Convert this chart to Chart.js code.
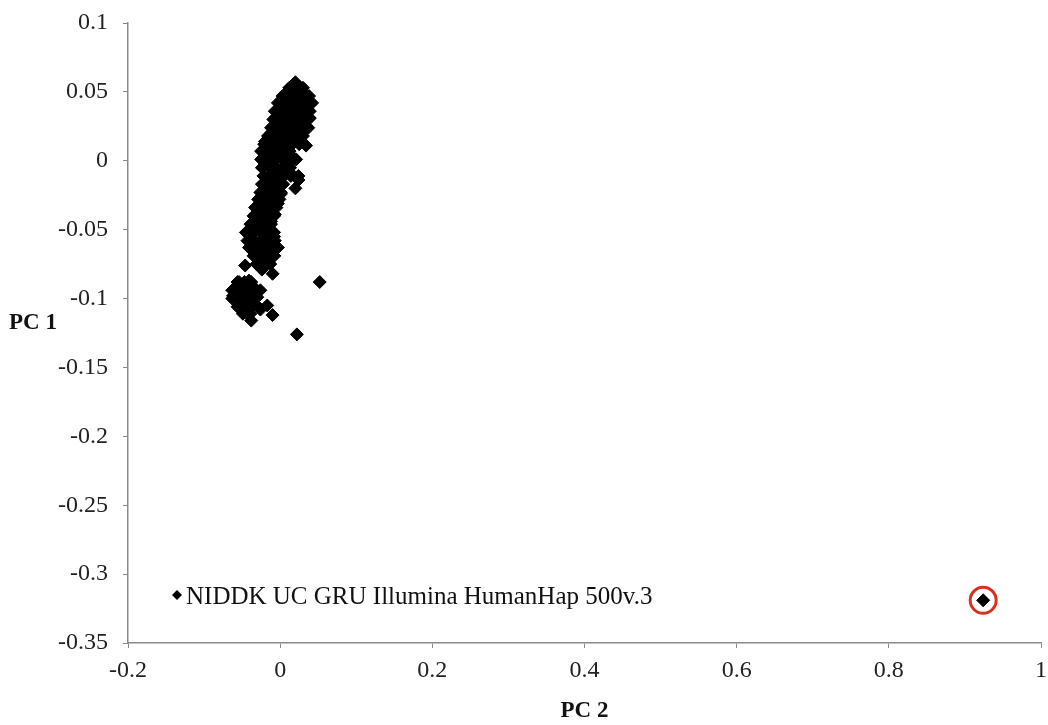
<!DOCTYPE html>
<html>
<head>
<meta charset="utf-8">
<script src="https://cdn.jsdelivr.net/npm/chart.js@4"></script>
<style>
  html, body { margin: 0; padding: 0; background: #fff; }
  #wrap { width: 1048px; height: 725px; }
</style>
</head>
<body>
<div id="wrap"><canvas id="pcaChart" width="1048" height="725"></canvas></div>
<script>
// PC 2 (x) / PC 1 (y) values
const pc2 = [
  0.020, 0.025, 0.013, 0.030, 0.008, 0.020, 0.033, 0.003, 0.016, 0.025,
  0.035, -0.001, 0.010, 0.022, 0.031, 0.039, -0.005, 0.007, 0.017, 0.028,
  0.037, -0.008, 0.003, 0.013, 0.024, -0.012, -0.001, 0.009, 0.020, 0.034,
  -0.020, -0.009, 0.003, 0.012, -0.022, -0.013, -0.003, 0.008, 0.018, -0.020,
  -0.008, 0.003, 0.014, 0.024, 0.020, -0.014, -0.003, -0.020, -0.007, 0.001,
  -0.024, -0.013, -0.003, -0.028, -0.017, -0.007, -0.033, -0.022, -0.037, -0.012,
  -0.043, -0.030, -0.018, -0.008, -0.038, -0.025, -0.013, -0.003, -0.033, -0.020,
  -0.008, -0.028, -0.016, -0.046, -0.010, -0.024, -0.054, -0.041, -0.059, -0.047,
  -0.034, -0.056, -0.043, -0.030, -0.051, -0.038, -0.026, -0.043, -0.038, -0.017,
  -0.010, -0.062, 0.022, 0.052, 0.924,
  // dense part of the cluster
  0.012, 0.021, 0.030,
  0.003, 0.012, 0.021, 0.030, 0.038,
  -0.003, 0.007, 0.016, 0.025, 0.034, 0.042,
  -0.007, 0.003, 0.012, 0.021, 0.030, 0.039,
  -0.009, 0.000, 0.009, 0.018, 0.028, 0.037,
  -0.012, -0.003, 0.007, 0.016, 0.025, 0.034,
  -0.016, -0.007, 0.003, 0.012, 0.021, 0.030,
  -0.021, -0.012, -0.003, 0.007, 0.016, 0.025,
  -0.025, -0.016, -0.007, 0.003, 0.012,
  -0.025, -0.016, -0.007, 0.003, 0.012, 0.021,
  -0.024, -0.014, -0.005, 0.004, 0.013,
  -0.022, -0.013, -0.004, 0.005, 0.014, 0.024,
  -0.024, -0.014, -0.005, 0.004,
  -0.026, -0.017, -0.008, 0.001,
  -0.029, -0.020, -0.010, -0.001,
  -0.033, -0.024, -0.014, -0.005,
  -0.035, -0.026, -0.017, -0.008,
  -0.039, -0.030, -0.021, -0.012,
  -0.045, -0.035, -0.026, -0.017, -0.008,
  -0.043, -0.034, -0.025, -0.016, -0.007,
  -0.041, -0.031, -0.022, -0.013, -0.004,
  -0.035, -0.026, -0.017, -0.008,
  -0.031, -0.022, -0.013,
  -0.056, -0.047, -0.038,
  -0.063, -0.054, -0.045, -0.035, -0.026,
  -0.063, -0.054, -0.045, -0.035,
  -0.056, -0.047, -0.038, -0.029,
  -0.049, -0.039
];
const pc1 = [
  0.057, 0.054, 0.053, 0.050, 0.049, 0.047, 0.044, 0.044, 0.042, 0.040,
  0.039, 0.038, 0.036, 0.035, 0.033, 0.031, 0.032, 0.030, 0.028, 0.026,
  0.024, 0.025, 0.023, 0.022, 0.020, 0.020, 0.017, 0.016, 0.014, 0.011,
  0.014, 0.012, 0.009, 0.007, 0.007, 0.004, 0.002, 0.000, 0.002, -0.002,
  -0.004, -0.007, -0.009, -0.014, -0.020, -0.011, -0.014, -0.018, -0.021, -0.024,
  -0.026, -0.028, -0.031, -0.034, -0.036, -0.039, -0.041, -0.043, -0.046, -0.044,
  -0.052, -0.050, -0.052, -0.055, -0.058, -0.059, -0.061, -0.063, -0.065, -0.067,
  -0.069, -0.072, -0.074, -0.076, -0.082, -0.079, -0.088, -0.087, -0.094, -0.092,
  -0.092, -0.100, -0.098, -0.099, -0.106, -0.104, -0.108, -0.111, -0.116, -0.105,
  -0.112, -0.098, -0.126, -0.088, -0.319,
  // dense part of the cluster
  0.053, 0.053, 0.053,
  0.047, 0.047, 0.047, 0.047, 0.047,
  0.042, 0.042, 0.042, 0.042, 0.042, 0.042,
  0.036, 0.036, 0.036, 0.036, 0.036, 0.036,
  0.030, 0.030, 0.030, 0.030, 0.030, 0.030,
  0.024, 0.024, 0.024, 0.024, 0.024, 0.024,
  0.018, 0.018, 0.018, 0.018, 0.018, 0.018,
  0.012, 0.012, 0.012, 0.012, 0.012, 0.012,
  0.007, 0.007, 0.007, 0.007, 0.007,
  0.001, 0.001, 0.001, 0.001, 0.001, 0.001,
  -0.005, -0.005, -0.005, -0.005, -0.005,
  -0.011, -0.011, -0.011, -0.011, -0.011, -0.011,
  -0.017, -0.017, -0.017, -0.017,
  -0.023, -0.023, -0.023, -0.023,
  -0.028, -0.028, -0.028, -0.028,
  -0.034, -0.034, -0.034, -0.034,
  -0.040, -0.040, -0.040, -0.040,
  -0.046, -0.046, -0.046, -0.046,
  -0.052, -0.052, -0.052, -0.052, -0.052,
  -0.058, -0.058, -0.058, -0.058, -0.058,
  -0.063, -0.063, -0.063, -0.063, -0.063,
  -0.069, -0.069, -0.069, -0.069,
  -0.075, -0.075, -0.075,
  -0.088, -0.088, -0.088,
  -0.094, -0.094, -0.094, -0.094, -0.094,
  -0.100, -0.100, -0.100, -0.100,
  -0.106, -0.106, -0.106, -0.106,
  -0.111, -0.111
];
// the sample that is circled in red
const flaggedX = [0.924];
const flaggedY = [-0.319];

const xTicks = [-0.2, 0, 0.2, 0.4, 0.6, 0.8, 1];
const yTicks = [0.1, 0.05, 0, -0.05, -0.1, -0.15, -0.2, -0.25, -0.3, -0.35];
const seriesName = "NIDDK UC GRU Illumina HumanHap 500v.3";

const serif = "'Liberation Serif', 'Times New Roman', serif";
const axisGray = "#8a8a8a";

// draws the in-plot legend and the horizontal "PC 1" label
const extraText = {
  id: "extraText",
  afterDraw(chart) {
    const { ctx, chartArea } = chart;
    ctx.save();
    // legend marker
    const mx = chartArea.left + 49, my = 595;
    ctx.fillStyle = "#000";
    ctx.beginPath();
    ctx.moveTo(mx, my - 5);
    ctx.lineTo(mx + 5, my);
    ctx.lineTo(mx, my + 5);
    ctx.lineTo(mx - 5, my);
    ctx.closePath();
    ctx.fill();
    ctx.font = "25px " + serif;
    ctx.textBaseline = "middle";
    ctx.textAlign = "left";
    ctx.fillStyle = "#111";
    ctx.fillText(seriesName, mx + 9, my + 2);
    // y axis title
    ctx.font = "bold 23px " + serif;
    ctx.fillText("PC 1", 9, 323);
    ctx.restore();
  }
};

new Chart(document.getElementById("pcaChart"), {
  type: "scatter",
  data: {
    datasets: [
      {
        label: seriesName,
        data: pc2.map((x, i) => ({ x, y: pc1[i] })),
        pointStyle: "rectRot",
        pointRadius: 6.5,
        backgroundColor: "#000",
        borderColor: "#000",
        borderWidth: 1,
      },
      {
        label: "flagged",
        data: flaggedX.map((x, i) => ({ x, y: flaggedY[i] })),
        pointStyle: "circle",
        pointRadius: 13,
        backgroundColor: "#fff",
        borderColor: "#d8311f",
        borderWidth: 3,
      },
    ],
  },
  options: {
    responsive: false,
    animation: false,
    layout: { autoPadding: false, padding: { top: 23, right: 7, left: 0, bottom: 0 } },
    plugins: {
      legend: { display: false },
      tooltip: { enabled: false },
    },
    scales: {
      x: {
        type: "linear",
        min: -0.2,
        max: 1,
        afterBuildTicks: scale => { scale.ticks = xTicks.map(v => ({ value: v })); },
        afterFit: scale => {
          scale.height = 82;
          scale.paddingLeft = 0;
          scale.paddingRight = 0;
        },
        border: { display: true, color: axisGray, width: 1.5 },
        grid: { drawOnChartArea: false, drawTicks: true, tickLength: 5, color: axisGray },
        ticks: {
          color: "#222",
          padding: 8,
          maxRotation: 0,
          font: { family: serif, size: 24 },
          callback: v => String(Math.round(v * 100) / 100),
        },
        title: {
          display: true,
          text: "PC 2",
          color: "#111",
          padding: { top: 0, bottom: 0 },
          font: { family: serif, size: 23, weight: "bold" },
        },
      },
      y: {
        type: "linear",
        min: -0.35,
        max: 0.1,
        afterBuildTicks: scale => { scale.ticks = yTicks.map(v => ({ value: v })); },
        afterFit: scale => {
          scale.width = 128;
          scale.paddingTop = 0;
          scale.paddingBottom = 0;
        },
        border: { display: true, color: axisGray, width: 1.5 },
        grid: { drawOnChartArea: false, drawTicks: true, tickLength: 5, color: axisGray },
        ticks: {
          color: "#222",
          padding: 15,
          font: { family: serif, size: 24 },
          callback: v => String(Math.round(v * 100) / 100),
        },
      },
    },
  },
  plugins: [extraText],
});
</script>
</body>
</html>
